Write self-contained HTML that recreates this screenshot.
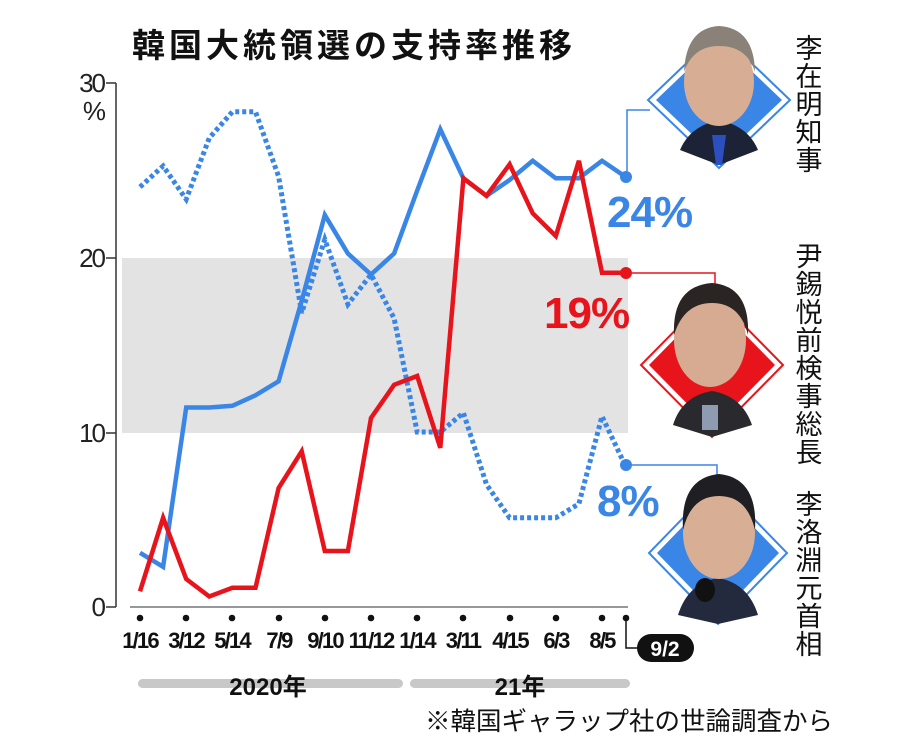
<!DOCTYPE html>
<html><head><meta charset="utf-8">
<style>
html,body{margin:0;padding:0;background:#fff;}
svg{display:block;}
text{font-family:"Liberation Sans","Noto Sans CJK JP",sans-serif;}
</style></head>
<body>
<svg width="912" height="750" viewBox="0 0 912 750" xmlns="http://www.w3.org/2000/svg">
<rect width="912" height="750" fill="#fff"/>
<text x="132" y="57" font-size="33" font-weight="bold" fill="#111" font-family="'Noto Sans CJK JP',sans-serif" style="letter-spacing:4px">韓国大統領選の支持率推移</text>
<rect x="122" y="258" width="506" height="175" fill="#e3e3e3"/>
<line x1="116" y1="83" x2="116" y2="607" stroke="#333" stroke-width="1.5"/>
<g stroke="#333" stroke-width="1.5">
<line x1="106" y1="83" x2="116" y2="83"/><line x1="106" y1="258" x2="116" y2="258"/>
<line x1="106" y1="433" x2="116" y2="433"/><line x1="106" y1="607" x2="116" y2="607"/>
</g>
<g font-size="26" fill="#222" text-anchor="end" style="letter-spacing:-2px">
<text x="104" y="92">30</text><text x="104" y="120">%</text>
<text x="104" y="267">20</text><text x="104" y="442">10</text><text x="104" y="616">0</text>
</g>
<line x1="130" y1="607" x2="628" y2="607" stroke="#777" stroke-width="1.5"/>
<g fill="#111">
<circle cx="140" cy="618" r="3.3"/><circle cx="186" cy="618" r="3.3"/><circle cx="232" cy="618" r="3.3"/>
<circle cx="279" cy="618" r="3.3"/><circle cx="325" cy="618" r="3.3"/><circle cx="371" cy="618" r="3.3"/>
<circle cx="417" cy="618" r="3.3"/><circle cx="463" cy="618" r="3.3"/><circle cx="510" cy="618" r="3.3"/>
<circle cx="556" cy="618" r="3.3"/><circle cx="602" cy="618" r="3.3"/><circle cx="626" cy="618" r="3.3"/>
</g>
<g font-size="22" font-weight="bold" fill="#111" text-anchor="middle" style="letter-spacing:-1.8px">
<text x="140" y="648">1/16</text><text x="186" y="648">3/12</text><text x="232" y="648">5/14</text>
<text x="279" y="648">7/9</text><text x="325" y="648">9/10</text><text x="371" y="648">11/12</text>
<text x="417" y="648">1/14</text><text x="463" y="648">3/11</text><text x="510" y="648">4/15</text>
<text x="556" y="648">6/3</text><text x="602" y="648">8/5</text>
</g>
<polyline points="626,618 626,648 640,648" fill="none" stroke="#111" stroke-width="1.5"/>
<rect x="637" y="634" width="57" height="28" rx="14" fill="#111"/>
<text x="665" y="656" font-size="21" font-weight="bold" fill="#fff" text-anchor="middle">9/2</text>
<rect x="138" y="679" width="265" height="9" rx="4.5" fill="#c8c8c8"/>
<rect x="410" y="679" width="220" height="9" rx="4.5" fill="#c8c8c8"/>
<text x="268" y="695" font-size="24" font-weight="bold" fill="#111" text-anchor="middle" font-family="'Noto Sans CJK JP',sans-serif">2020年</text>
<text x="520" y="695" font-size="24" font-weight="bold" fill="#111" text-anchor="middle" font-family="'Noto Sans CJK JP',sans-serif">21年</text>
<text x="425" y="730" font-size="25.5" fill="#111" font-family="'Noto Sans CJK JP',sans-serif">※韓国ギャラップ社の世論調査から</text>
<polyline fill="none" stroke="#3a86e6" stroke-width="5" stroke-dasharray="4 3" stroke-linejoin="miter"
points="140,187 163.1,166 186.2,199.3 209.3,138 232.4,111.8 255.5,111.8 278.6,176.5 301.7,313 324.8,239.5 347.9,304.3 371,274.5 394.1,318.3 417.2,432 440.3,432 463.4,412.8 486.5,484.5 509.6,517.8 532.7,517.8 555.8,517.8 578.9,503.8 602,416.3 625.1,465.3"/>
<polyline fill="none" stroke="#3a86e6" stroke-width="4.5" stroke-linejoin="miter"
points="140,552.8 163.1,566.8 186.2,407.5 209.3,407.5 232.4,405.8 255.5,395.3 278.6,381.3 301.7,300.8 324.8,215 347.9,253.5 371,274.5 394.1,253.5 417.2,190.5 440.3,129.3 463.4,178.3 486.5,195.8 509.6,180 532.7,160.8 555.8,178.3 578.9,178.3 602,160.8 625.1,176.5"/>
<polyline fill="none" stroke="#e8141c" stroke-width="4.5" stroke-linejoin="miter"
points="140,591.3 163.1,517.8 186.2,579 209.3,596.5 232.4,587.8 255.5,587.8 278.6,488 301.7,451.3 324.8,551 347.9,551 371,418 394.1,384.8 417.2,376 440.3,447.8 463.4,178.3 486.5,195.8 509.6,164.3 532.7,213.3 555.8,236 578.9,160.8 602,272.8 625.1,272.8"/>
<circle cx="626" cy="177" r="6" fill="#3a86e6"/>
<circle cx="626" cy="273" r="6" fill="#e8141c"/>
<circle cx="626" cy="465" r="6" fill="#3a86e6"/>
<polyline points="627,172 627,110 650,110" fill="none" stroke="#3a86e6" stroke-width="1.5"/>
<polyline points="632,273 715,273 715,290" fill="none" stroke="#e8141c" stroke-width="1.5"/>
<polyline points="632,465 717,465 717,485" fill="none" stroke="#3a86e6" stroke-width="1.5"/>
<text x="607" y="227" font-size="44" font-weight="900" fill="#3a86e6" font-family="'DejaVu Sans',sans-serif" style="letter-spacing:-1px">24%</text>
<text x="544" y="328" font-size="44" font-weight="900" fill="#e8141c" font-family="'DejaVu Sans',sans-serif" style="letter-spacing:-1px">19%</text>
<text x="597" y="516" font-size="44" font-weight="900" fill="#3a86e6" font-family="'DejaVu Sans',sans-serif" style="letter-spacing:-1px">8%</text>
<polygon points="719,32 790,100 719,168 648,100" fill="#fff" stroke="#3a86e6" stroke-width="2"/>
<polygon points="719,40 782,100 719,160 656,100" fill="#3a86e6"/>
<polygon points="712,293 783,365 712,437 641,365" fill="#fff" stroke="#e8141c" stroke-width="2"/>
<polygon points="712,301 775,365 712,429 649,365" fill="#e8141c"/>
<polygon points="718,482 787,553 718,624 649,553" fill="#fff" stroke="#3a86e6" stroke-width="2"/>
<polygon points="718,490 779,553 718,616 657,553" fill="#3a86e6"/>
<g>
<path d="M680,150 Q690,126 719,120 Q748,126 758,150 L719,165 Z" fill="#1d2336"/>
<ellipse cx="719" cy="82" rx="35" ry="44" fill="#d7ad93"/>
<path d="M684,72 Q686,28 719,26 Q754,28 755,72 Q747,46 719,46 Q693,46 684,72 Z" fill="#8a8178"/>
<path d="M712,135 L726,135 L722,165 L716,165 Z" fill="#2b4fbf"/>
</g>
<g>
<path d="M673,425 Q682,396 712,391 Q742,396 752,425 L712,437 Z" fill="#2a2a2e"/>
<ellipse cx="710" cy="340" rx="36" ry="47" fill="#d6ab92"/>
<path d="M674,335 Q672,286 712,283 Q750,286 748,335 Q740,303 712,303 Q684,303 674,335 Z" fill="#2a2422"/>
<rect x="702" y="405" width="16" height="25" fill="#8f9bb0"/>
</g>
<g>
<path d="M678,615 Q688,583 718,578 Q748,583 758,615 L718,624 Z" fill="#232a3e"/>
<ellipse cx="719" cy="533" rx="36" ry="46" fill="#d8ae95"/>
<path d="M683,530 Q680,478 719,474 Q758,478 755,530 Q747,496 719,496 Q691,496 683,530 Z" fill="#1f1f23"/>
<ellipse cx="705" cy="590" rx="10" ry="12" fill="#111"/>
</g>
<g font-size="27" fill="#111" text-anchor="middle" font-family="'Noto Sans CJK JP',sans-serif">
<text x="809" y="58">李</text><text x="809" y="86">在</text><text x="809" y="114">明</text><text x="809" y="142">知</text><text x="809" y="170">事</text>
<text x="809" y="266">尹</text><text x="809" y="294">錫</text><text x="809" y="322">悦</text><text x="809" y="350">前</text><text x="809" y="378">検</text><text x="809" y="406">事</text><text x="809" y="434">総</text><text x="809" y="462">長</text>
<text x="809" y="514">李</text><text x="809" y="542">洛</text><text x="809" y="570">淵</text><text x="809" y="598">元</text><text x="809" y="626">首</text><text x="809" y="654">相</text>
</g>
</svg>
</body></html>
